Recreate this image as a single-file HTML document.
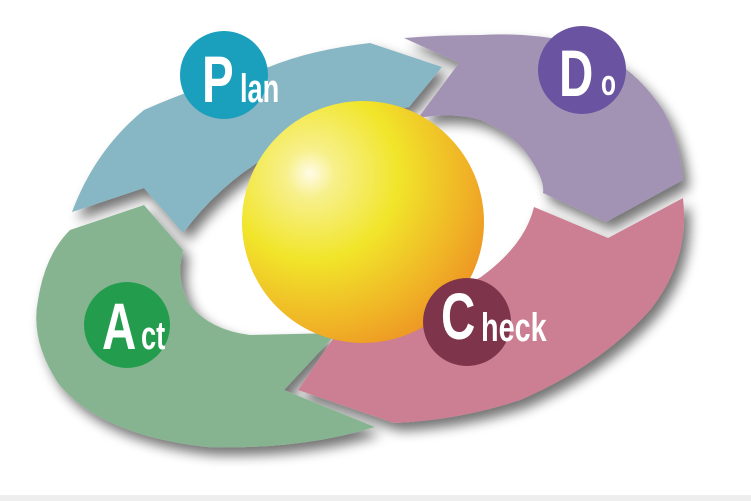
<!DOCTYPE html>
<html><head><meta charset="utf-8"><style>
html,body{margin:0;padding:0;background:#fff;width:751px;height:501px;overflow:hidden}
text{font-family:"Liberation Sans Narrow","Liberation Sans",sans-serif;font-weight:bold;fill:#fff}
</style></head><body>
<svg width="751" height="501" viewBox="0 0 751 501" xmlns="http://www.w3.org/2000/svg">
<defs>
<filter id="sh" x="-20%" y="-20%" width="140%" height="140%"><feGaussianBlur in="SourceAlpha" stdDeviation="6"/><feOffset dx="6" dy="8"/><feComponentTransfer><feFuncA type="linear" slope="0.55"/></feComponentTransfer><feMerge><feMergeNode/><feMergeNode in="SourceGraphic"/></feMerge></filter>
<radialGradient id="sp" cx="0.3" cy="0.3" r="0.85" fx="0.28" fy="0.3">
<stop offset="0" stop-color="#fffbe6"/><stop offset="0.12" stop-color="#f7f08a"/><stop offset="0.42" stop-color="#f1e52a"/><stop offset="0.75" stop-color="#f0b226"/><stop offset="1" stop-color="#ec8a22"/></radialGradient>
</defs>
<rect x="0" y="495" width="751" height="6" fill="#eeeeee"/>
<g filter="url(#sh)">
<path fill="#87b490" d="M70,230 L144,205 L183,250 Q175,280 190,305 Q210,330 250,335 L337,333 L284,390 L375,427 Q300,450 207,447 Q100,435 58,383 Q30,340 38,300 Q45,255 70,230 Z"/>
<path fill="#87b6c4" d="M72,212 L144,188 L183,233 Q230,170 300,140 Q360,115 409,107 L442,67 L370,43 Q310,50 269,67 Q200,85 144,110 Q95,150 72,212 Z"/>
<path fill="#a293b5" d="M404,38 L459,63 L418,118 Q455,112 481,120 Q515,135 529,157 Q545,180 543,193 L606,222 L683,180 Q680,140 663,110 Q630,60 577,43 Q530,32 481,35 Q440,35 404,38 Z"/>
<path fill="#cc7f92" d="M683,198 Q690,260 650,310 Q601,365 520,400 Q460,420 394,423 L298,390 L337,333 Q420,310 481,277 Q525,245 534,207 L608,238 Z"/>
</g>
<circle cx="363" cy="222" r="121" fill="url(#sp)"/>
<g>
<circle cx="224" cy="75" r="44" fill="#1a9fbd"/>
<text x="202" y="102" font-size="66" transform="translate(202 0) scale(0.72 1) translate(-202 0)">P</text>
<text x="240" y="102" font-size="40" transform="translate(240 0) scale(0.68 1) translate(-240 0)">lan</text>
<circle cx="582" cy="70" r="44" fill="#6a53a0"/>
<text x="559" y="96" font-size="66" transform="translate(559 0) scale(0.72 1) translate(-559 0)">D</text>
<text x="601" y="95" font-size="36" transform="translate(601 0) scale(0.68 1) translate(-601 0)">o</text>
<circle cx="467" cy="322" r="44" fill="#7e354c"/>
<text x="441" y="339" font-size="66" transform="translate(441 0) scale(0.72 1) translate(-441 0)">C</text>
<text x="481" y="341" font-size="40" transform="translate(481 0) scale(0.72 1) translate(-481 0)">heck</text>
<circle cx="127" cy="325" r="43" fill="#239d4d"/>
<text x="102" y="349" font-size="66" transform="translate(102 0) scale(0.72 1) translate(-102 0)">A</text>
<text x="141" y="349" font-size="40" transform="translate(141 0) scale(0.68 1) translate(-141 0)">ct</text>
</g>
</svg>
</body></html>
